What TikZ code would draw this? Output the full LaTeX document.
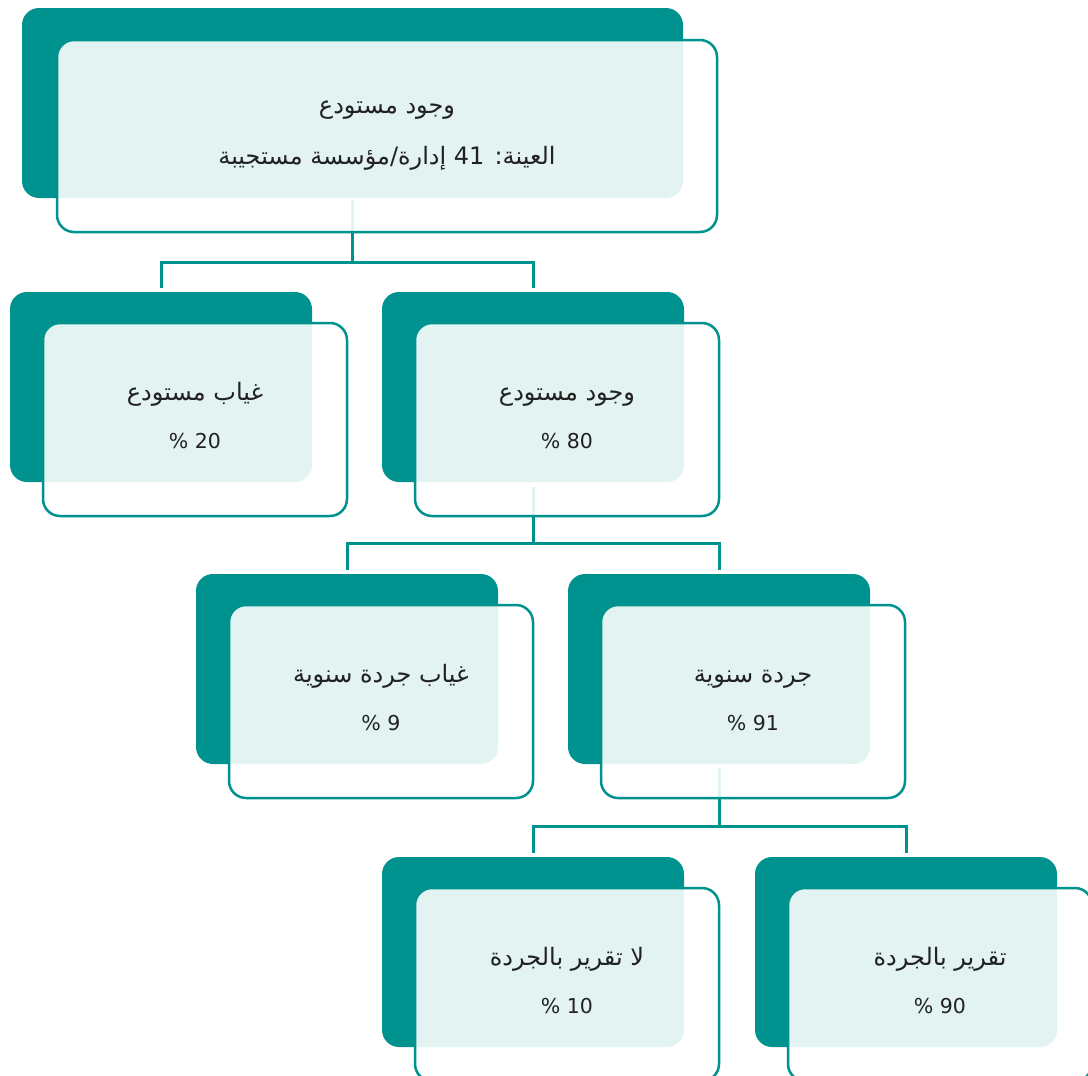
\documentclass[tikz,border=0pt]{standalone}
\usepackage{fontspec}
\setmainfont{DejaVu Sans}
\newfontfamily\arabicfont[Script=Arabic]{DejaVu Sans}
\TeXXeTstate=1
\definecolor{teal1}{RGB}{0,146,143}
\tikzset{
  darkbox/.style={fill=teal1, rounded corners=17pt},
  frontbox/.style={draw=teal1, line width=2.5pt, fill=white, fill opacity=0.89, rounded corners=17pt},
  conn/.style={draw=teal1, line width=3pt},
  lbl/.style={anchor=base, inner sep=0pt, font=\fontsize{20.5}{24}\selectfont, text=black!87},
}
\newcommand{\ar}[1]{{\fontsize{24}{28}\selectfont\arabicfont\beginR #1\endR}}
% #1 name, #2 x, #3 y, #4 width, #5 line 1, #6 line 2
\newcommand{\orgbox}[6]{%
  \path[darkbox] (#2,#3) rectangle ++(#4,190);
  \path[frontbox] ($(#2,#3)+(33,31)$) rectangle ++($(#4,0)+(2,193)$);
  \node[lbl] (#1-a) at ($(#2,#3)+(34+0.5*#4,108)$) {#5};
  \node[lbl] (#1-b) at ($(#2,#3)+(34+0.5*#4,156)$) {#6};
}
\begin{document}
\begin{tikzpicture}[x=1pt,y=-1pt]
\usetikzlibrary{calc}
\useasboundingbox (0,0) rectangle (1088,1076);
\clip (0,0) rectangle (1088,1076);
% connectors (drawn first, seen faintly through the front boxes)
\coordinate (r-bot) at (352.5,200);
\coordinate (j1) at (352.5,262);
\coordinate (j1r) at (533,262);
\coordinate (j2) at (533,543);
\draw[conn] (r-bot) -- (j1);
\draw[conn] (161,288) |- (j1r) -- (533,288);
\draw[conn] (533,487) -- (j2);
\draw[conn] (347,570) |- (719,543) -- (719,570);
\draw[conn] (719,768) -- (719,826);
\draw[conn] (533,853) |- (906,826) -- (906,853);
% boxes
\path[darkbox] (22,8) rectangle (683,198);
\path[frontbox] (57,40) rectangle (717,232);
\node[lbl] (root-a) at (387,113) {\ar{وجود مستودع}};
\node[lbl] (root-b) at (387,164) {\ar{العينة: \beginL 41\endL{} إدارة/مؤسسة مستجيبة}};
\orgbox{n1}{10}{292}{302}{\ar{غياب مستودع}}{\% 20}
\orgbox{n2}{382}{292}{302}{\ar{وجود مستودع}}{\% 80}
\orgbox{n3}{196}{574}{302}{\ar{غياب جردة سنوية}}{\% 9}
\orgbox{n4}{568}{574}{302}{\ar{جردة سنوية}}{\% 91}
\orgbox{n5}{382}{857}{302}{\ar{لا تقرير بالجردة}}{\% 10}
\orgbox{n6}{755}{857}{302}{\ar{تقرير بالجردة}}{\% 90}
\end{tikzpicture}
\end{document}
